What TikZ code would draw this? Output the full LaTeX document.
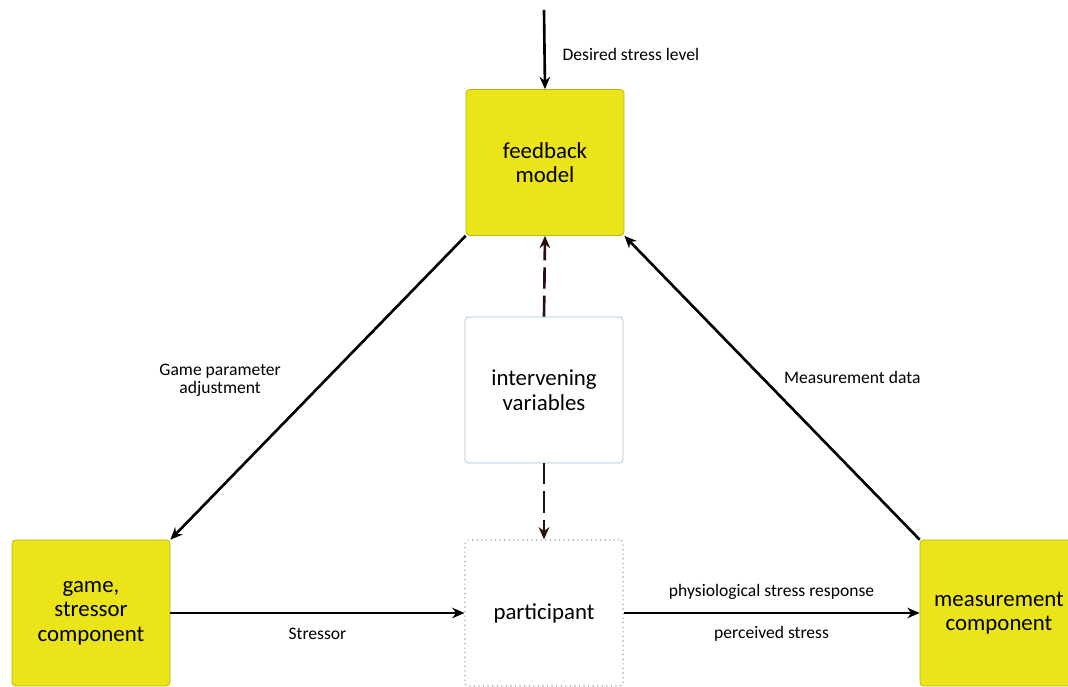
\documentclass[tikz,border=0pt]{standalone}
\usepackage{fontspec}
\setmainfont{Carlito}
\usetikzlibrary{arrows.meta}
\definecolor{boxyellow}{RGB}{234,228,24}
\definecolor{boxedge}{RGB}{160,190,210}
\definecolor{darkdash}{RGB}{40,15,10}

\begin{document}
\begin{tikzpicture}[
    block/.style={draw=boxyellow!80!black,fill=boxyellow,rounded corners=2pt,
                  minimum width=3.16cm,minimum height=2.92cm,align=center,
                  font=\fontsize{13}{14}\selectfont},
    plain/.style={draw=boxedge,thin,rounded corners=2pt,minimum width=3.16cm,
                  minimum height=2.92cm,align=center,font=\fontsize{13}{14}\selectfont},
    stream/.style={-{Stealth[length=7pt,width=6pt]},line width=1.5pt},
    link/.style={stream,darkdash,dash pattern=on 12pt off 4pt},
    lbl/.style={font=\fontsize{10}{10.5}\selectfont,align=center}]
    \useasboundingbox (0,0) rectangle (21.36,13.74);
    %boxes
    \node [block] (feedback) at (10.9,10.49) {feedback\\model};
    \node [plain] (interv) at (10.88,5.94) {intervening\\variables};
    \node [plain,draw=boxedge!80!black,line width=0.6pt,dotted] (particip) at (10.88,1.48) {participant};
    \node [block] (game) at (1.82,1.48) {game,\\stressor\\component};
    \node [block] (measure) at (19.98,1.48) {measurement\\component};
    %input
    \coordinate (setpoint) at (10.88,13.54);
    \draw [stream] (setpoint) -- node[lbl,right=0.22cm,yshift=-0.1cm]{Desired stress level}
                          (feedback.north);
    %loop
    \draw [stream] (feedback.south west) -- node[lbl,midway,left=0.6cm,yshift=0.15cm]{Game parameter\\adjustment}
                          (game.north east);
    \draw [stream] (measure.north west) -- node[lbl,midway,right=0.1cm,yshift=0.2cm]{Measurement data}
                          (feedback.south east);
    \draw [stream] (game.east) -- node[lbl,below=0.15cm]{Stressor} (particip.west);
    \draw [stream] (particip.east) -- node[lbl,above=0.12cm]{physiological stress response}
                          node[lbl,below=0.12cm]{perceived stress} (measure.west);
    %intervening
    \draw [link] (interv.north) -- (feedback.south);
    \draw [link] (interv.south) -- (particip.north);
\end{tikzpicture}
\end{document}
